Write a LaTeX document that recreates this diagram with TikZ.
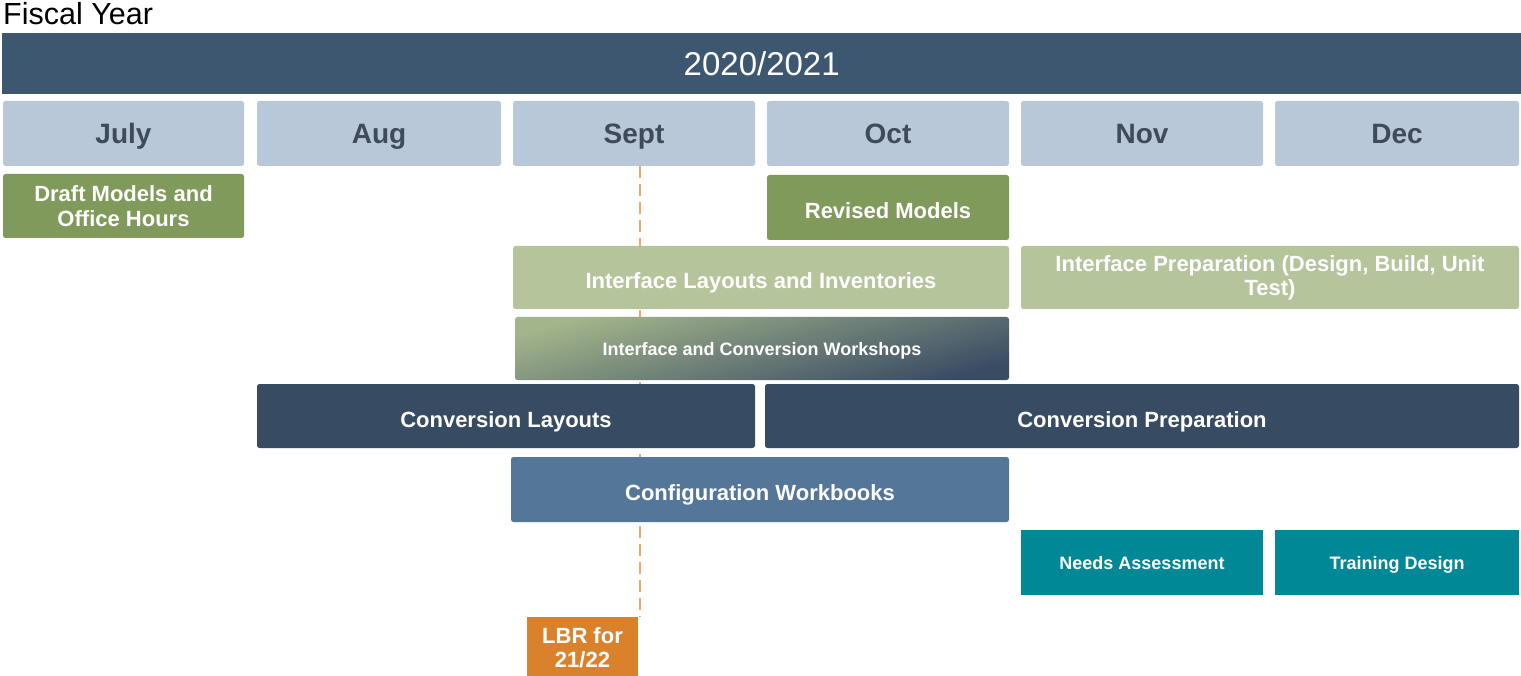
\documentclass[tikz,border=0pt]{standalone}
\usepackage{fontspec}
\setmainfont{Liberation Sans}
\definecolor{yearbar}{HTML}{3E5770}
\definecolor{month}{HTML}{B8C8D8}
\definecolor{monthtxt}{HTML}{3F4B5B}
\definecolor{dgreen}{HTML}{7F9A5A}
\definecolor{lgreen}{HTML}{B5C49B}
\definecolor{navy}{HTML}{374B63}
\definecolor{steel}{HTML}{547699}
\definecolor{teal}{HTML}{008896}
\definecolor{orng}{HTML}{D9822B}
\definecolor{dashc}{HTML}{F2A765}
\definecolor{gradA}{HTML}{A3B58A}
\definecolor{gradB}{HTML}{3A4C64}
\tikzset{
  bx/.style={anchor=north west, rounded corners=2.5pt, inner sep=0pt, outer sep=0pt, align=center, text=white, font=\bfseries\fontsize{22}{25}\selectfont},
  sl/.style={text height=22pt, text depth=0pt},
  slm/.style={text height=25pt, text depth=5pt},
  sls/.style={text height=15pt, text depth=1pt},
  monthbox/.style={bx, slm, fill=month, text=monthtxt, font=\bfseries\fontsize{28}{32}\selectfont},
  smalltxt/.style={sls, font=\bfseries\fontsize{18}{21}\selectfont},
}
\begin{document}
\begin{tikzpicture}[x=1pt,y=-1pt]
\useasboundingbox[fill=white] (0,0) rectangle (1521,676);
\node[anchor=north west, inner sep=0pt, font=\fontsize{30.5}{34}\selectfont] (fy) at (3,2) {Fiscal Year};
\node[anchor=north west, fill=yearbar, inner sep=0pt, minimum width=1519pt, minimum height=61pt, text=white, text height=30.6pt, text depth=7pt, font=\fontsize{33}{37}\selectfont] (year) at (2,33) {2020/2021};
% months
\node[monthbox, minimum width=241pt, minimum height=65pt] (jul) at (3,101) {July};
\node[monthbox, minimum width=244pt, minimum height=65pt] (aug) at (257,101) {Aug};
\node[monthbox, minimum width=242pt, minimum height=65pt] (sep) at (513,101) {Sept};
\node[monthbox, minimum width=242pt, minimum height=65pt] (oct) at (767,101) {Oct};
\node[monthbox, minimum width=242pt, minimum height=65pt] (nov) at (1021,101) {Nov};
\node[monthbox, minimum width=244pt, minimum height=65pt] (dec) at (1275,101) {Dec};
% LBR node first (needed for dashed line), dashed line behind boxes
\node[bx, rounded corners=0pt, fill=orng, minimum width=111pt, minimum height=62pt, font=\bfseries\fontsize{22}{24}\selectfont] (lbr) at (527,617) {LBR for\\21/22};
\coordinate (dtop) at ([xshift=6pt]sep.south);
\draw[dashc, line width=2.5pt, dash pattern=on 12pt off 6pt] (dtop) -- (dtop |- lbr.north);
% tasks
\node[bx, fill=dgreen, minimum width=241pt, minimum height=64pt, font=\bfseries\fontsize{22}{25}\selectfont] (draft) at (3,174) {Draft Models and\\Office Hours};
\node[bx, sl, fill=dgreen, minimum width=242pt, minimum height=65pt] (rev) at (767,175) {Revised Models};
\node[bx, sl, fill=lgreen, minimum width=496pt, minimum height=63pt] (ili) at (513,246) {Interface Layouts and Inventories};
\node[bx, fill=lgreen, minimum width=498pt, minimum height=63pt, font=\bfseries\fontsize{22}{24}\selectfont] (ip) at (1021,246) {Interface Preparation (Design, Build, Unit\\Test)};
\node[bx, smalltxt, top color=gradA, bottom color=gradB, shading angle=15, minimum width=494pt, minimum height=63pt] (icw) at (515,317) {Interface and Conversion Workshops};
\node[bx, sl, fill=navy, minimum width=498pt, minimum height=64pt] (cl) at (257,384) {Conversion Layouts};
\node[bx, sl, fill=navy, minimum width=754pt, minimum height=64pt] (cp) at (765,384) {Conversion Preparation};
\node[bx, sl, fill=steel, minimum width=498pt, minimum height=65pt] (cw) at (511,457) {Configuration Workbooks};
\node[bx, smalltxt, rounded corners=0pt, fill=teal, minimum width=242pt, minimum height=65pt] (na) at (1021,530) {Needs Assessment};
\node[bx, smalltxt, rounded corners=0pt, fill=teal, minimum width=244pt, minimum height=65pt] (td) at (1275,530) {Training Design};
\end{tikzpicture}
\end{document}
